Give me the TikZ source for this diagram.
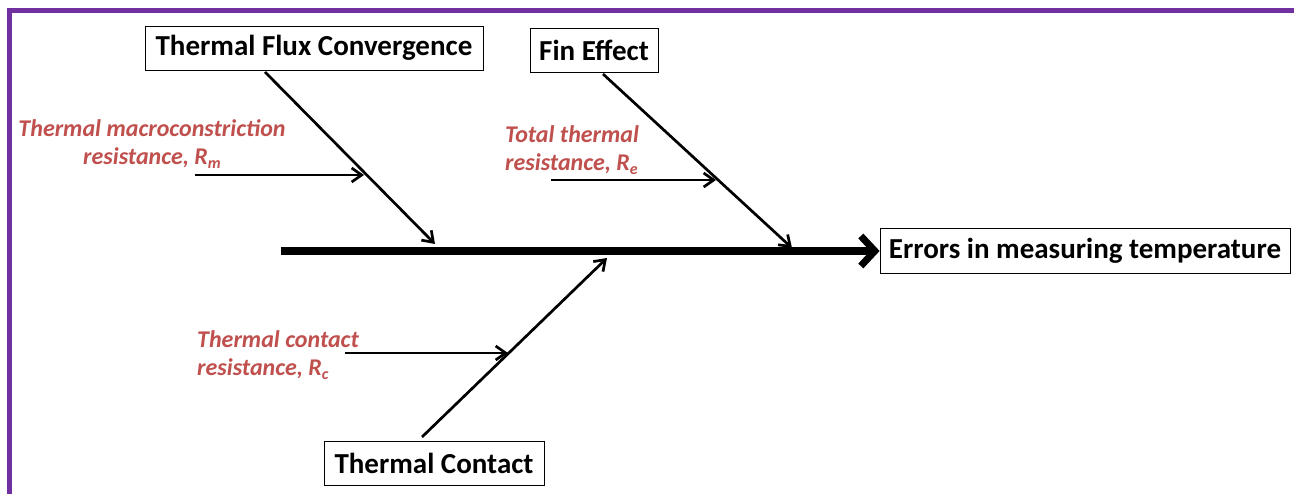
\documentclass[tikz,border=0pt]{standalone}
\usepackage{fontspec}
\setmainfont{Carlito}
\usetikzlibrary{arrows.meta}
\definecolor{framepurple}{HTML}{7030A0}
\definecolor{labred}{HTML}{C0504D}
\newcommand\lowidx[1]{\raisebox{-0.35ex}{\fontsize{16}{16}\selectfont #1}}
\begin{document}
\begin{tikzpicture}[x=1pt,y=-1pt,
  box/.style={draw, line width=0.8pt, inner sep=0pt, minimum height=44pt,
    font=\bfseries\fontsize{29}{34}\selectfont},
  lbl/.style={text=labred, font=\bfseries\itshape\fontsize{24}{28.5}\selectfont, inner sep=0pt},
  bone/.style={line width=2.7pt, -{Straight Barb[length=10pt,width=14pt,line width=2.7pt]}},
  spine/.style={line width=8pt, -{Straight Barb[length=14pt,width=30pt,line width=7pt]}}]
\useasboundingbox (0,0) rectangle (1294,494);
\fill[white] (0,0) rectangle (1294,494);
\draw[framepurple, line width=5pt] (1300,10.5) -- (9.5,10.5) -- (9.5,500);

% boxes
\node[box, minimum width=338pt] (tfc) at (314,48) {Thermal Flux Convergence};
\node[box, minimum width=128pt] (fin) at (594,50) {Fin Effect};
\node[box, minimum width=410pt, minimum height=45pt] (err) at (1085,250.5) {Errors in measuring temperature};
\node[box, minimum width=220pt] (tc) at (434,463) {Thermal Contact};

% spine
\coordinate (s0) at (281,251);
\draw[spine] (s0) -- (s0 -| err.west);

% branch points
\coordinate (b1s) at (265,72);
\coordinate (b1e) at (435,244);
\coordinate (b2s) at (603,74);
\coordinate (b2e) at (792,248);
\coordinate (b3s) at (422,437);
\coordinate (b3e) at (607,258);
\draw[bone] (b1s) -- (b1e);
\draw[bone] (b2s) -- (b2e);
\draw[bone] (b3s) -- (b3e);

% sub-arrows
\coordinate (m0) at (195,175);
\coordinate (m1) at (364,175);
\coordinate (e0) at (551,180);
\coordinate (e1) at (716,180);
\coordinate (c0) at (345,353);
\coordinate (c1) at (508,353);
\draw[bone] (m0) -- (m1);
\draw[bone] (e0) -- (e1);
\draw[bone] (c0) -- (c1);

% labels
\node[lbl, align=center, anchor=north] (lm) at (152,119) {Thermal macroconstriction\\resistance, R\lowidx{m}};
\node[lbl, align=left, anchor=north west] (le) at (505,125) {Total thermal\\resistance, R\lowidx{e}};
\node[lbl, align=left, anchor=north west] (lc) at (197,330) {Thermal contact\\resistance, R\lowidx{c}};
\end{tikzpicture}
\end{document}
